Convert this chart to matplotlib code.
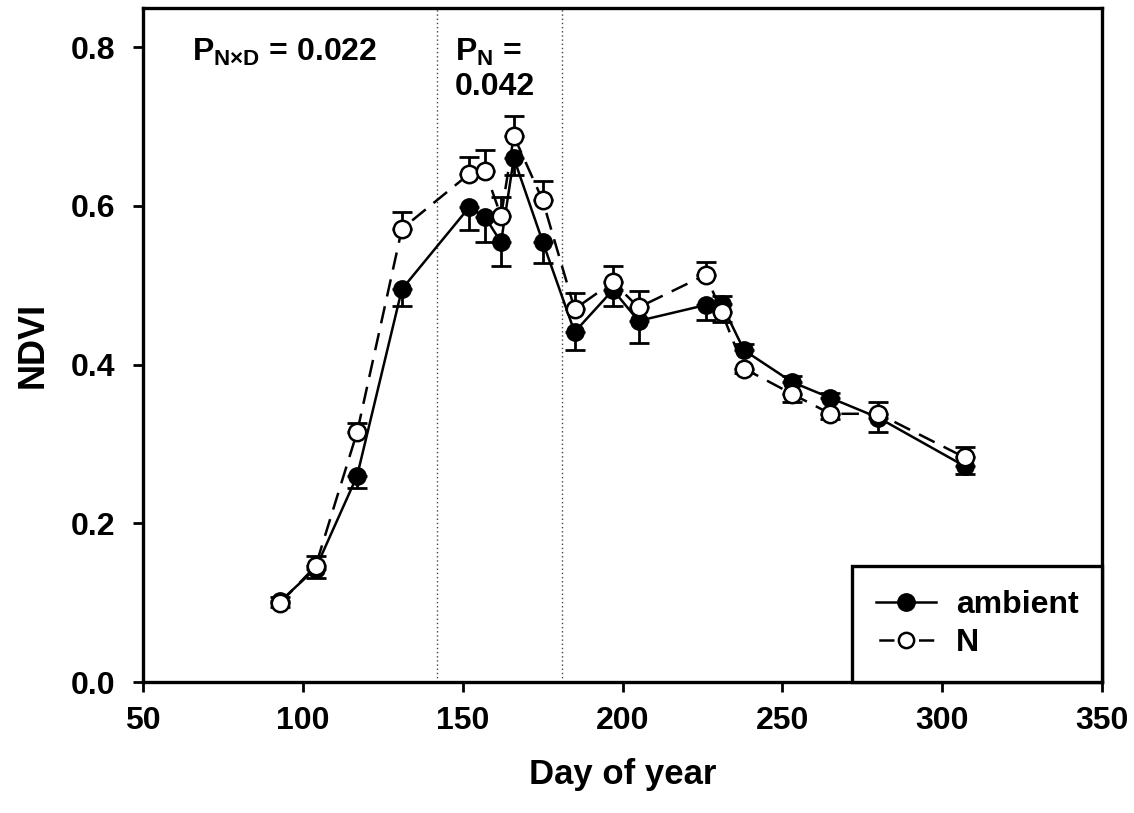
import matplotlib
matplotlib.use("Agg")
import matplotlib.pyplot as plt
from matplotlib.lines import Line2D
import numpy as np

# ---- data ----
day = [93, 104, 117, 131, 152, 157, 162, 166, 175, 185, 197, 205, 226, 231, 238, 253, 265, 280, 307]
ambient = [0.102, 0.143, 0.260, 0.495, 0.598, 0.586, 0.554, 0.660, 0.555, 0.441, 0.494, 0.455,
           0.475, 0.476, 0.418, 0.378, 0.358, 0.333, 0.272]
ambient_err = [0.005, 0.012, 0.016, 0.021, 0.028, 0.032, 0.030, 0.021, 0.027, 0.023, 0.020, 0.028,
               0.019, 0.010, 0.008, 0.007, 0.006, 0.018, 0.010]
nitro = [0.100, 0.146, 0.315, 0.571, 0.640, 0.644, 0.587, 0.688, 0.607, 0.470, 0.504, 0.472,
         0.513, 0.466, 0.395, 0.363, 0.338, 0.338, 0.283]
nitro_err = [0.005, 0.013, 0.012, 0.021, 0.021, 0.026, 0.024, 0.025, 0.024, 0.020, 0.020, 0.021,
             0.016, 0.013, 0.006, 0.010, 0.006, 0.015, 0.013]
window = [142, 181]
xticks = [50, 100, 150, 200, 250, 300, 350]
yticks = [0.0, 0.2, 0.4, 0.6, 0.8]
series_labels = ['ambient', 'N']

plt.rcParams['font.family'] = ['Liberation Sans', 'DejaVu Sans']
plt.rcParams['font.weight'] = 'bold'
plt.rcParams['mathtext.fontset'] = 'custom'
plt.rcParams['mathtext.rm'] = 'Liberation Sans:bold'
plt.rcParams['mathtext.bf'] = 'Liberation Sans:bold'
plt.rcParams['mathtext.default'] = 'rm'

fig = plt.figure(figsize=(11.34, 8.13), dpi=100)
ax = fig.add_axes([0.126, 0.161, 0.846, 0.829])

a = np.array(ambient); ae = np.array(ambient_err)
n = np.array(nitro); ne = np.array(nitro_err)
a_up = a >= n
# one-sided error bars: upper series upward, lower series downward
a_yerr = [np.where(a_up, 0, ae), np.where(a_up, ae, 0)]
n_yerr = [np.where(a_up, ne, 0), np.where(a_up, 0, ne)]

for xv in window:
    ax.axvline(xv, color='#444444', linestyle=(0, (1, 2)), linewidth=1.0, zorder=1)

ms = 12.5
ax.errorbar(day, ambient, yerr=a_yerr, fmt='none', ecolor='black', elinewidth=2.0,
            capsize=7, capthick=2.0, zorder=2)
ax.plot(day, ambient, color='black', linestyle='-', linewidth=1.8, marker='o',
        markersize=ms, markerfacecolor='black', markeredgecolor='black', zorder=3)
ax.errorbar(day, nitro, yerr=n_yerr, fmt='none', ecolor='black', elinewidth=2.0,
            capsize=7, capthick=2.0, zorder=4)
ax.plot(day, nitro, color='black', linestyle=(0, (7, 4)), linewidth=1.8, marker='o',
        markersize=ms, markerfacecolor='white', markeredgecolor='black', markeredgewidth=1.8,
        zorder=5)

ax.set_xlim(50, 350)
ax.set_ylim(0, 0.849)
ax.set_xticks(xticks)
ax.set_yticks(yticks)
ax.set_xticklabels([str(v) for v in xticks])
ax.set_yticklabels([f"{v:.1f}" for v in yticks])
ax.tick_params(direction='out', length=7, width=2, labelsize=23)
ax.tick_params(axis='y', pad=13)
ax.tick_params(axis='x', pad=10)
for s in ax.spines.values():
    s.set_linewidth(2.4)

ax.set_xlabel('Day of year', fontsize=25, fontweight='bold', labelpad=16)
ax.set_ylabel('NDVI', fontsize=26, fontweight='bold', labelpad=14)

ax.text(65.5, 0.783, r'P$_{\mathrm{N×D}}$ = 0.022', fontsize=23, fontweight='bold', ha='left', va='baseline')
ax.text(147.5, 0.783, r'P$_{\mathrm{N}}$ =', fontsize=23, fontweight='bold', ha='left', va='baseline')
ax.text(147.5, 0.739, '0.042', fontsize=23, fontweight='bold', ha='left', va='baseline')

h_amb = Line2D([], [], color='black', linestyle='-', linewidth=1.8, marker='o', markersize=ms,
               markerfacecolor='black', markeredgecolor='black')
h_n = Line2D([], [], color='black', linestyle=(14.8, (6.1, 9.8)), linewidth=1.8, marker='o',
             markersize=ms - 1.5, markerfacecolor='white', markeredgecolor='black', markeredgewidth=1.8)
leg = ax.legend([h_amb, h_n], series_labels, loc='lower right', borderaxespad=0, fancybox=False,
                framealpha=1, edgecolor='black', fontsize=23, handlelength=1.9, borderpad=0.75,
                labelspacing=0.25, handletextpad=0.6)
leg.get_frame().set_linewidth(2.4)
for t in leg.get_texts():
    t.set_fontweight('bold')

fig.savefig('out.png', dpi=100)
